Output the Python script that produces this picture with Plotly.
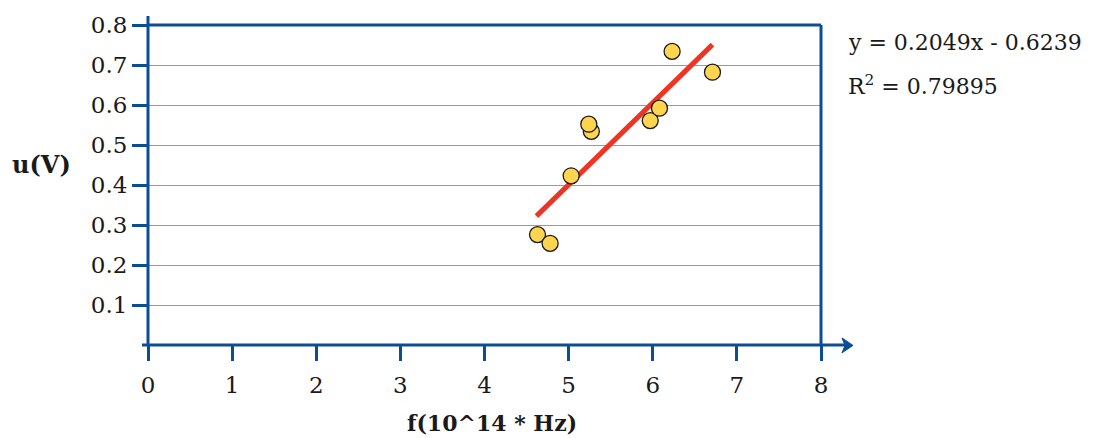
import plotly.graph_objects as go

# ---- data ----
freq = [4.63, 4.78, 5.03, 5.27, 5.24, 5.97, 6.08, 6.23, 6.71]
volt = [0.276, 0.254, 0.423, 0.534, 0.552, 0.561, 0.592, 0.734, 0.682]
slope = 0.2049
intercept = -0.6239
r2 = 0.79895
x_ticks = [0, 1, 2, 3, 4, 5, 6, 7, 8]
y_ticks = [0.1, 0.2, 0.3, 0.4, 0.5, 0.6, 0.7, 0.8]
y_tick_labels = ["0.1", "0.2", "0.3", "0.4", "0.5", "0.6", "0.7", "0.8"]

BLUE = "#0B4E96"
FONT = "DejaVu Serif"

W, H = 1101, 438
L, R, T, B = 148, 821, 22, 344.6

def px(x):
    return (x - L) / (R - L)

def py(y):
    return (B - y) / (B - T)

tx = [min(freq) - 0.013, max(freq)]
ty = [slope * v + intercept for v in tx]

fig = go.Figure()
fig.add_trace(go.Scatter(x=tx, y=ty, mode="lines",
                         line=dict(color="#EE3524", width=5), showlegend=False,
                         hoverinfo="skip"))
fig.add_trace(go.Scatter(x=freq, y=volt, mode="markers",
                         marker=dict(size=16, color="#FFD54F",
                                     line=dict(color="#1a1a1a", width=1.3)),
                         showlegend=False))

fig.update_layout(
    width=W, height=H,
    margin=dict(l=L, r=W - R, t=T, b=H - B),
    paper_bgcolor="white", plot_bgcolor="white",
    font=dict(family=FONT, size=23, color="#1a1a1a"),
    xaxis=dict(range=[0, 8], tickvals=x_ticks, ticks="outside", ticklen=15,
               tickwidth=2.5, tickcolor=BLUE, showgrid=False, zeroline=False,
               showline=False, tickfont=dict(size=23), ticklabelstandoff=4),
    yaxis=dict(range=[0, 0.8], tickvals=y_ticks, ticktext=y_tick_labels,
               ticks="outside", ticklen=15, tickwidth=2.5, tickcolor=BLUE,
               showgrid=True, gridcolor="#9A9A9A", gridwidth=1.3,
               zeroline=False, showline=False, tickfont=dict(size=23)),
)

shapes = []
shapes.append(dict(type="line", xref="paper", yref="paper", x0=0, x1=1, y0=1, y1=1,
                   line=dict(color=BLUE, width=3)))
shapes.append(dict(type="line", xref="paper", yref="paper", x0=1, x1=1, y0=0, y1=1,
                   line=dict(color=BLUE, width=3)))
shapes.append(dict(type="line", xref="paper", yref="paper", x0=0, x1=0, y0=0, y1=py(13),
                   line=dict(color=BLUE, width=3)))
shapes.append(dict(type="line", xref="paper", yref="paper", x0=px(142), x1=px(850),
                   y0=0, y1=0, line=dict(color=BLUE, width=3)))
shapes.append(dict(type="path", xref="paper", yref="paper",
                   path=f"M {px(842)} {py(337.5)} L {px(853)} {py(345)} L {px(842)} {py(352.5)} "
                        f"L {px(845)} {py(345)} Z",
                   fillcolor=BLUE, line=dict(color=BLUE, width=1)))
fig.update_layout(shapes=shapes)

fig.add_annotation(text="<b>u(V)</b>", xref="paper", yref="paper", x=px(41), y=py(163),
                   showarrow=False, font=dict(size=24, family=FONT), xanchor="center", yanchor="middle")
fig.add_annotation(text="<b>f(10^14 * Hz)</b>", xref="paper", yref="paper", x=px(492), y=py(423),
                   showarrow=False, font=dict(size=22, family=FONT), xanchor="center", yanchor="middle")
fig.add_annotation(text=f"y = {slope}x - {abs(intercept)}", xref="paper", yref="paper",
                   x=px(846), y=py(40), showarrow=False, font=dict(size=22, family=FONT),
                   xanchor="left", yanchor="middle")
fig.add_annotation(text=f"R<sup>2</sup> = {r2}", xref="paper", yref="paper",
                   x=px(846), y=py(82), showarrow=False, font=dict(size=22, family=FONT),
                   xanchor="left", yanchor="middle")

fig.write_html("out.html")
